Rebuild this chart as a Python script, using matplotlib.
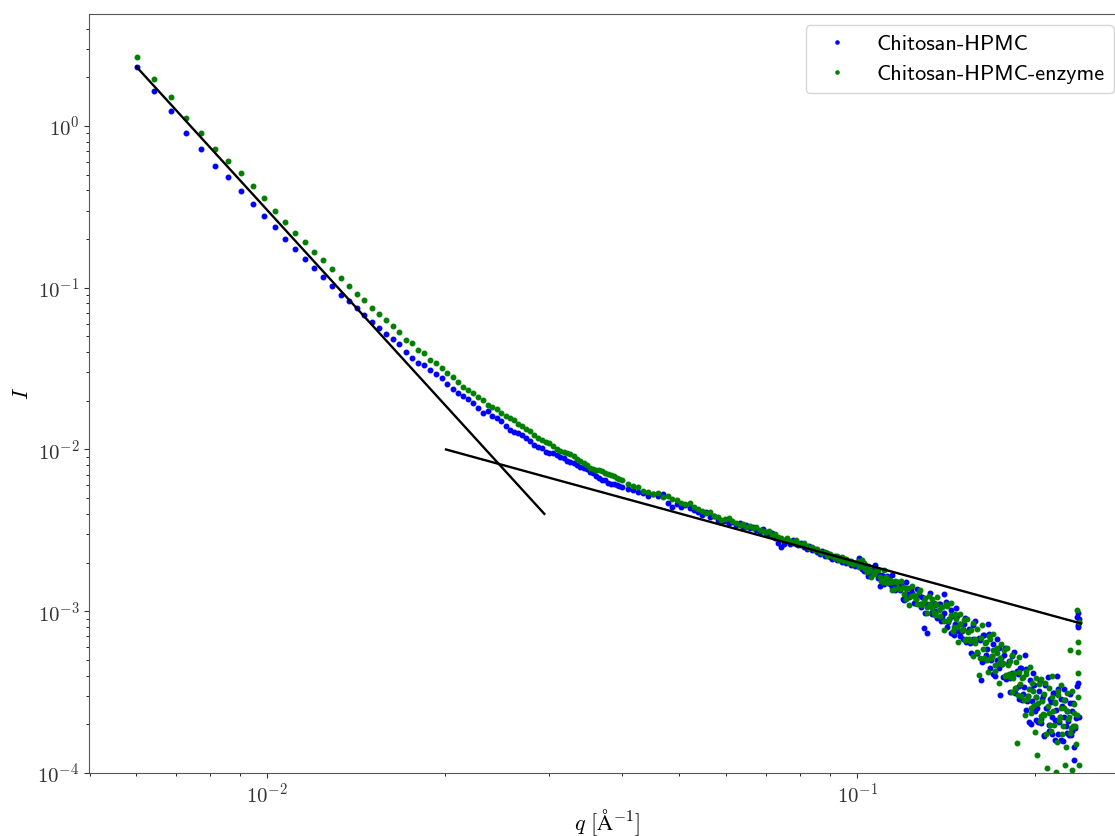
import numpy as np
import matplotlib
matplotlib.use('Agg')
import matplotlib.pyplot as plt

plt.rcParams['mathtext.fontset'] = 'cm'
plt.rcParams['font.family'] = 'serif'
plt.rcParams['font.serif'] = ['cmr10', 'DejaVu Serif']
plt.rcParams['axes.formatter.use_mathtext'] = True

# scattering vector q (1/Angstrom), shared by both samples
q = [0.00601, 0.00644, 0.00687, 0.00730, 0.00773, 0.00816, 0.00859, 0.00902, 0.00945, 0.00988,
     0.01031, 0.01074, 0.01117, 0.01160, 0.01203, 0.01246, 0.01289, 0.01332, 0.01375, 0.01418,
     0.01461, 0.01504, 0.01547, 0.01590, 0.01633, 0.01676, 0.01719, 0.01762, 0.01805, 0.01848,
     0.01891, 0.01934, 0.01977, 0.02020, 0.02063, 0.02106, 0.02149, 0.02192, 0.02235, 0.02278,
     0.02321, 0.02364, 0.02407, 0.02450, 0.02493, 0.02536, 0.02579, 0.02622, 0.02665, 0.02708,
     0.02751, 0.02794, 0.02837, 0.02880, 0.02923, 0.02966, 0.03009, 0.03052, 0.03095, 0.03138,
     0.03181, 0.03224, 0.03267, 0.03310, 0.03353, 0.03396, 0.03439, 0.03482, 0.03525, 0.03568,
     0.03611, 0.03654, 0.03697, 0.03740, 0.03783, 0.03826, 0.03869, 0.03912, 0.03955, 0.03998,
     0.04084, 0.04170, 0.04256, 0.04342, 0.04428, 0.04514, 0.04600, 0.04686, 0.04772, 0.04858,
     0.04944, 0.05030, 0.05116, 0.05202, 0.05288, 0.05374, 0.05460, 0.05546, 0.05632, 0.05718,
     0.05804, 0.05890, 0.05976, 0.06062, 0.06148, 0.06234, 0.06320, 0.06406, 0.06492, 0.06578,
     0.06664, 0.06750, 0.06836, 0.06922, 0.07008, 0.07094, 0.07180, 0.07266, 0.07352, 0.07438,
     0.07524, 0.07610, 0.07696, 0.07782, 0.07868, 0.07954, 0.08040, 0.08126, 0.08212, 0.08298,
     0.08384, 0.08470, 0.08556, 0.08642, 0.08728, 0.08814, 0.08900, 0.08986, 0.09072, 0.09158,
     0.09244, 0.09330, 0.09416, 0.09502, 0.09588, 0.09674, 0.09760, 0.09846, 0.09932,
     0.10018, 0.10147, 0.10276, 0.10405, 0.10534, 0.10663, 0.10792, 0.10921, 0.11050, 0.11179,
     0.11308, 0.11437, 0.11566, 0.11695, 0.11824, 0.11953, 0.12082, 0.12211, 0.12340, 0.12469,
     0.12598, 0.12727, 0.12856, 0.12985, 0.13114, 0.13243, 0.13372, 0.13501, 0.13630, 0.13759,
     0.13888, 0.14017, 0.14146, 0.14275, 0.14404, 0.14533, 0.14662, 0.14791, 0.14920, 0.15049,
     0.15178, 0.15307, 0.15436, 0.15565, 0.15694, 0.15823, 0.15952, 0.16081, 0.16210, 0.16339,
     0.16468, 0.16597, 0.16726, 0.16855, 0.16984, 0.17113, 0.17242, 0.17371, 0.17500, 0.17629,
     0.17758, 0.17887, 0.18016, 0.18145, 0.18274, 0.18403, 0.18532, 0.18661, 0.18790, 0.18919,
     0.19048, 0.19177, 0.19306, 0.19435, 0.19564, 0.19693, 0.19822, 0.19951, 0.20080, 0.20209,
     0.20338, 0.20467, 0.20596, 0.20725, 0.20854, 0.20983, 0.21112, 0.21241, 0.21370, 0.21499,
     0.21628, 0.21757, 0.21886, 0.22015, 0.22144, 0.22273, 0.22402, 0.22531, 0.22660, 0.22789,
     0.22918, 0.23047, 0.23176, 0.23305, 0.23434, 0.23563, 0.23692,
     0.23700, 0.23710, 0.23720, 0.23730, 0.23740]

I_hpmc = [2.33, 1.639, 1.238, 0.905, 0.725, 0.566, 0.4826, 0.3975, 0.3304, 0.2777,
          0.2358, 0.2013, 0.1729, 0.1506, 0.1319, 0.1159, 0.1025, 0.0898, 0.0822, 0.0746,
          0.0677, 0.0614, 0.0567, 0.0521, 0.0481, 0.0451, 0.0401, 0.0368, 0.0340, 0.0331,
          0.0309, 0.0292, 0.0277, 0.0254, 0.0235, 0.0222, 0.0213, 0.0204, 0.0193, 0.0181,
          0.0169, 0.01735, 0.0161, 0.0156, 0.01504, 0.01397, 0.01314, 0.01283, 0.01256, 0.0122,
          0.01178, 0.01129, 0.01059, 0.01036, 0.01014, 0.00958, 0.00955, 0.00954, 0.00927, 0.00895,
          0.00886, 0.00851, 0.00831, 0.00825, 0.00804, 0.00779, 0.00765, 0.00752, 0.00729, 0.00711,
          0.00686, 0.00668, 0.00652, 0.00643, 0.00621, 0.0061, 0.00616, 0.00603, 0.00596, 0.0059,
          0.00566, 0.00562, 0.00542, 0.00538, 0.00516, 0.00527, 0.00512, 0.00531, 0.00467, 0.00444,
          0.0046, 0.00441, 0.00454, 0.00432, 0.00423, 0.00411, 0.00396, 0.00411, 0.00383, 0.00388,
          0.00367, 0.00356, 0.00362, 0.00349, 0.00356, 0.00342, 0.00349, 0.00332, 0.00342, 0.00325,
          0.00332, 0.00318, 0.00311, 0.00323, 0.00305, 0.00298, 0.00305, 0.00284, 0.00264, 0.00251,
          0.00261, 0.00272, 0.00262, 0.00274, 0.00261, 0.00255, 0.00264, 0.0025, 0.00241, 0.00253,
          0.00239, 0.00244, 0.00233, 0.00226, 0.00236, 0.00221, 0.00229, 0.00217, 0.00211, 0.0022,
          0.00206, 0.00214, 0.00202, 0.00209, 0.00199, 0.00205, 0.00193, 0.002, 0.00191,
          0.00194, 0.0020, 0.001766, 0.001859, 0.001712, 0.001872, 0.00169, 0.001432, 0.00166, 0.001529,
          0.001605, 0.001408, 0.001453, 0.001525, 0.001353, 0.001184, 0.001386, 0.00128, 0.001369, 0.00113,
          0.001183, 0.001265, 0.001057, 0.000788, 0.000734, 0.001096, 0.00096, 0.001117, 0.000998, 0.00111,
          0.000874, 0.000978, 0.001135, 0.000858, 0.000731, 0.000937, 0.000835, 0.000928, 0.000698, 0.000753,
          0.000839, 0.000642, 0.000754, 0.000639, 0.000825, 0.000658, 0.000548, 0.000686, 0.000376, 0.000712,
          0.000496, 0.000586, 0.000719, 0.0005, 0.000408, 0.000574, 0.000502, 0.000589, 0.000304, 0.000472,
          0.000536, 0.000379, 0.000475, 0.000385, 0.000527, 0.000408, 0.000313, 0.000427, 0.000345, 0.000446,
          0.000281, 0.000342, 0.00044, 0.000278, 0.000207, 0.000332, 0.000278, 0.000351, 0.000214, 0.000254,
          0.000321, 0.000204, 0.000286, 0.000172, 0.000348, 0.000252, 0.000182, 0.000288, 0.000222, 0.000311,
          0.00016, 0.000245, 0.000332, 0.000206, 0.000159, 0.00026, 0.000221, 0.000283, 0.000176, 0.000211,
          0.000269, 0.000172, 0.000243, 0.00012, 0.000189, 0.000922, 0.000822,
          0.000975, 0.000799, 0.00036, 0.000222, 0.00089]

I_enzyme = [2.66, 1.953, 1.504, 1.125, 0.910, 0.716, 0.611, 0.510, 0.4245, 0.3567,
            0.2990, 0.2535, 0.2181, 0.1929, 0.167, 0.1476, 0.1298, 0.1149, 0.1025, 0.0915,
            0.084, 0.0754, 0.0691, 0.0627, 0.058, 0.0533, 0.0475, 0.0453, 0.0412, 0.0394,
            0.0357, 0.0341, 0.032, 0.0297, 0.0279, 0.026, 0.02445, 0.02323, 0.02226, 0.02112,
            0.0201, 0.0189, 0.01832, 0.01768, 0.01674, 0.01615, 0.01555, 0.01515, 0.01438, 0.01387,
            0.01333, 0.01294, 0.0122, 0.0117, 0.01141, 0.01114, 0.01089, 0.01057, 0.0101, 0.00982,
            0.00971, 0.00952, 0.00931, 0.00912, 0.00876, 0.00853, 0.00825, 0.00796, 0.0077, 0.00762,
            0.0075, 0.00744, 0.00734, 0.00718, 0.00704, 0.00691, 0.00681, 0.00666, 0.00654, 0.00643,
            0.00616, 0.00595, 0.00582, 0.00554, 0.00546, 0.00527, 0.00538, 0.00505, 0.00516, 0.00491,
            0.00487, 0.0047, 0.0046, 0.00467, 0.00444, 0.00429, 0.00414, 0.00405, 0.00408, 0.00388,
            0.0038, 0.00364, 0.00372, 0.00377, 0.00359, 0.00351, 0.00342, 0.00346, 0.00332, 0.00337,
            0.00325, 0.0033, 0.00318, 0.00314, 0.00307, 0.00314, 0.00296, 0.003, 0.00288, 0.00282,
            0.00276, 0.00284, 0.0027, 0.00264, 0.00274, 0.00264, 0.00257, 0.00266, 0.00253, 0.00246,
            0.0025, 0.00238, 0.00243, 0.00234, 0.00229, 0.00233, 0.00221, 0.00226, 0.00218, 0.00212,
            0.0022, 0.00207, 0.00215, 0.00203, 0.00211, 0.002, 0.00205, 0.00196, 0.00199,
            0.00204, 0.0019, 0.001993, 0.001756, 0.001799, 0.001695, 0.001827, 0.001617, 0.001525, 0.001631,
            0.001516, 0.001523, 0.001382, 0.001514, 0.001363, 0.001404, 0.001195, 0.001392, 0.001235, 0.001265,
            0.001195, 0.001309, 0.001093, 0.001162, 0.001066, 0.001242, 0.001052, 0.000974, 0.001106, 0.001011,
            0.001055, 0.000868, 0.001115, 0.000873, 0.000944, 0.000751, 0.000958, 0.000796, 0.000828, 0.000766,
            0.000883, 0.000678, 0.000741, 0.00065, 0.000841, 0.000633, 0.000558, 0.000404, 0.000682, 0.000588,
            0.000637, 0.000498, 0.000702, 0.000512, 0.000574, 0.000427, 0.000596, 0.00048, 0.000515, 0.000469,
            0.000574, 0.000406, 0.000464, 0.000394, 0.00054, 0.000388, 0.000335, 0.000153, 0.000423, 0.000355,
            0.000384, 0.000281, 0.000428, 0.000286, 0.000331, 0.000236, 0.000358, 0.000262, 0.000294, 0.000129,
            0.000353, 0.000225, 0.000277, 0.000227, 0.000359, 0.000107, 0.000234, 0.000198, 0.000294, 0.000242,
            0.000271, 0.000101, 0.000322, 0.000212, 0.000254, 0.000173, 0.000284, 0.000112, 0.00024, 0.000216,
            0.000576, 0.000189, 0.000104, 0.000236, 0.000195, 0.001018, 0.000645,
            0.00056, 0.000415, 0.000295, 0.000112, 0.00086]

# the interleaved high-q points (dense cloud above q = 0.1)
q_hi = [0.10061, 0.10190, 0.10319, 0.10448, 0.10577, 0.10706, 0.10835, 0.10964, 0.11093, 0.11222,
        0.11351, 0.11480, 0.11609, 0.11738, 0.11867, 0.11996, 0.12125, 0.12254, 0.12383, 0.12512,
        0.12641, 0.12770, 0.12899, 0.13028, 0.13157, 0.13286, 0.13415, 0.13544, 0.13673, 0.13802,
        0.13931, 0.14060, 0.14189, 0.14318, 0.14447, 0.14576, 0.14705, 0.14834, 0.14963, 0.15092,
        0.15221, 0.15350, 0.15479, 0.15608, 0.15737, 0.15866, 0.15995, 0.16124, 0.16253, 0.16382,
        0.16511, 0.16640, 0.16769, 0.16898, 0.17027, 0.17156, 0.17285, 0.17414, 0.17543, 0.17672,
        0.17801, 0.17930, 0.18059, 0.18188, 0.18317, 0.18446, 0.18575, 0.18704, 0.18833, 0.18962,
        0.19091, 0.19220, 0.19349, 0.19478, 0.19607, 0.19736, 0.19865, 0.19994, 0.20123, 0.20252,
        0.20381, 0.20510, 0.20639, 0.20768, 0.20897, 0.21026, 0.21155, 0.21284, 0.21413, 0.21542,
        0.21671, 0.21800, 0.21929, 0.22058, 0.22187, 0.22316, 0.22445, 0.22574, 0.22703, 0.22832,
        0.22961, 0.23090, 0.23219, 0.23348, 0.23477, 0.23606]

I_hpmc_hi = [0.002122, 0.001835, 0.001932, 0.001654, 0.001771, 0.001929, 0.001595, 0.00168, 0.001482, 0.001657,
             0.001476, 0.001666, 0.001345, 0.001396, 0.001463, 0.00118, 0.001514, 0.001223, 0.001296, 0.001122,
             0.001365, 0.001101, 0.001219, 0.000975, 0.001112, 0.001289, 0.000989, 0.001096, 0.000911, 0.001111,
             0.000923, 0.001276, 0.000795, 0.000897, 0.001011, 0.000711, 0.00104, 0.000756, 0.000831, 0.000673,
             0.000907, 0.000662, 0.000775, 0.000553, 0.000673, 0.000874, 0.000553, 0.000668, 0.000488, 0.000715,
             0.000533, 0.000833, 0.000447, 0.000531, 0.000629, 0.000397, 0.000674, 0.000448, 0.000517, 0.000394,
             0.000595, 0.000395, 0.000493, 0.000318, 0.000418, 0.000561, 0.000333, 0.000411, 0.000287, 0.000448,
             0.000308, 0.000533, 0.000244, 0.0003, 0.000375, 0.0002, 0.000416, 0.000241, 0.000295, 0.000207,
             0.000371, 0.000216, 0.000301, 0.000169, 0.000253, 0.000392, 0.000198, 0.000274, 0.000173, 0.000312,
             0.000212, 0.000399, 0.000174, 0.000223, 0.000288, 0.000157, 0.000331, 0.000194, 0.000241, 0.000171,
             0.00031, 0.000182, 0.000271, 0.000145, 0.00022, 0.000345]

I_enzyme_hi = [0.001867, 0.002086, 0.00182, 0.001896, 0.001626, 0.001756, 0.001807, 0.001529, 0.001791, 0.001495,
               0.001567, 0.001345, 0.001529, 0.001396, 0.001527, 0.001282, 0.001378, 0.001096, 0.001426, 0.001234,
               0.001112, 0.001351, 0.001109, 0.001213, 0.00097, 0.001109, 0.001197, 0.000944, 0.00123, 0.000941,
               0.001066, 0.000765, 0.001081, 0.000897, 0.00112, 0.000804, 0.000901, 0.000642, 0.000959, 0.000777,
               0.000667, 0.000901, 0.000671, 0.000769, 0.00053, 0.000674, 0.000774, 0.000513, 0.000827, 0.000515,
               0.000646, 0.000421, 0.000674, 0.000531, 0.000722, 0.000468, 0.000554, 0.00036, 0.000626, 0.000477,
               0.000395, 0.000595, 0.000408, 0.000493, 0.000318, 0.000416, 0.000488, 0.000304, 0.000524, 0.000298,
               0.000391, 0.000227, 0.000408, 0.0003, 0.000452, 0.000251, 0.00032, 0.000179, 0.000384, 0.000269,
               0.000211, 0.000381, 0.000231, 0.000309, 0.000174, 0.00026, 0.000334, 0.000181, 0.000395, 0.000199,
               0.000276, 0.000156, 0.000304, 0.000223, 0.000348, 0.000196, 0.000254, 0.000144, 0.000314, 0.000223,
               0.000177, 0.00032, 0.000196, 0.000266, 0.000151, 0.000228]

# power-law guides (end points)
porod_q = [0.0060, 0.0295]
porod_I = [2.33, 0.0040]
guide_q = [0.0201, 0.2397]
guide_I = [0.0100, 0.00084]

fig = plt.figure(figsize=(11.15, 8.36), dpi=100)
ax = fig.add_axes([89/1115, 1 - 773/836, (1125 - 89)/1115, (773 - 14)/836])

ax.plot(q + q_hi, I_hpmc + I_hpmc_hi, '.', color='b', markersize=6.5, label='Chitosan-HPMC')
ax.plot(q + q_hi, I_enzyme + I_enzyme_hi, '.', color='g', markersize=6.5, label='Chitosan-HPMC-enzyme')
ax.plot(porod_q, porod_I, color='k', lw=1.7)
ax.plot(guide_q, guide_I, color='k', lw=1.7)

ax.set_xscale('log')
ax.set_yscale('log')
ax.set_xlim(0.00499, 0.2845)
ax.set_ylim(1e-4, 4.92)
ax.tick_params(labelsize=15, colors='#333333')
for s in ax.spines.values():
    s.set_color('#555555')

ax.set_xlabel(r'$q\ [\mathrm{\AA}^{-1}]$', fontsize=16, labelpad=0)
ax.set_ylabel(r'$I$', fontsize=16)
ax.legend(loc='upper right', prop={'family': 'cmss10', 'size': 16}, numpoints=1, markerscale=0.7)

fig.savefig('out.png', dpi=100)
